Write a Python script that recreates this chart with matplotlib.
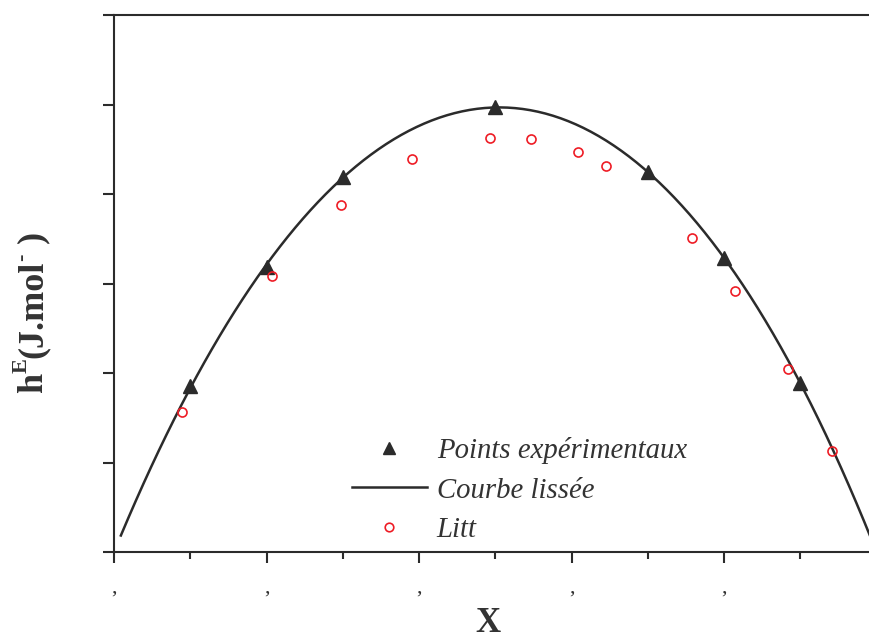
import numpy as np
import matplotlib
matplotlib.use("Agg")
import matplotlib.pyplot as plt
from matplotlib.ticker import MultipleLocator, FixedLocator

plt.rcParams['font.family'] = ['Liberation Serif', 'DejaVu Serif']

# Experimental points (triangles)
x_exp = [0.1, 0.2, 0.3, 0.5, 0.7, 0.8, 0.9]
h_exp = [186, 318, 419, 497, 425, 328, 189]

# Literature points (red circles)
x_lit = [0.089, 0.207, 0.298, 0.391, 0.493, 0.547, 0.609, 0.645, 0.758, 0.815, 0.884, 0.941]
h_lit = [156, 308, 388, 439, 463, 461.5, 447, 431, 351, 292, 204.5, 113]

x_ticks = [0.0, 0.2, 0.4, 0.6, 0.8, 1.0]
x_ticklabels = [',', ',', ',', ',', ',', '']
y_ticks = [0, 100, 200, 300, 400, 500, 600]

# Smoothed curve: Redlich-Kister fit of the experimental points
xe = np.array(x_exp)
he = np.array(h_exp)
z = 2 * xe - 1
A = np.column_stack([xe * (1 - xe) * z**k for k in range(3)])
coef, *_ = np.linalg.lstsq(A, he, rcond=None)
xc = np.linspace(0.009, 1.0, 300)
zc = 2 * xc - 1
hc = xc * (1 - xc) * sum(coef[k] * zc**k for k in range(3))

W, H = 869, 640
fig = plt.figure(figsize=(W / 100, H / 100), dpi=100)
ax = fig.add_axes([114 / W, 1 - 552 / H, (876.5 - 114) / W, (552 - 15) / H])

dark = '#2b2b2b'
ax.plot(xc, hc, color=dark, lw=1.8, label='Courbe lissée', zorder=2)
ax.plot(x_exp, h_exp, linestyle='none', marker='^', ms=9.5, color=dark,
        label='Points expérimentaux', zorder=3)
ax.plot(x_lit, h_lit, linestyle='none', marker='o', ms=6.5, mfc='none', mec='#ee1c25',
        mew=1.2, label='Litt', zorder=4)

ax.set_xlim(0, 1)
ax.set_ylim(0, 600)
ax.xaxis.set_major_locator(FixedLocator(x_ticks))
ax.set_xticklabels(x_ticklabels)
ax.xaxis.set_minor_locator(MultipleLocator(0.1))
ax.yaxis.set_major_locator(FixedLocator(y_ticks))
ax.set_yticklabels([])

for s in ax.spines.values():
    s.set_linewidth(1.5)
    s.set_color(dark)

ax.tick_params(axis='x', which='major', direction='out', length=8, width=1.5,
               color=dark, labelsize=16, pad=11, labelcolor='#333333')
ax.tick_params(axis='x', which='minor', direction='out', length=5, width=1.5, color=dark)
ax.tick_params(axis='y', which='major', direction='out', length=8, width=1.5, color=dark)

handles, labels = ax.get_legend_handles_labels()
order = [1, 0, 2]
leg = ax.legend([handles[i] for i in order], [labels[i] for i in order],
                loc='center left', bbox_to_anchor=(352 / W, 1 - 490 / H),
                bbox_transform=fig.transFigure, frameon=False,
                prop={'family': 'Liberation Serif', 'style': 'italic', 'size': 20.7},
                handlelength=2.6, handletextpad=0.35, labelspacing=0.45,
                borderpad=0, borderaxespad=0, markerscale=0.95)
for t in leg.get_texts():
    t.set_color('#333333')

# Y label built from pieces (rotated 90 deg), with raised superscripts
renderer = fig.canvas.get_renderer()
x_base = 42.0     # baseline position in pixels from left
y_cur = 393.0     # start (bottom) in pixels from top
pieces = [('h', 26, 0), ('E', 16, 15), ('(J.mol', 26, 0), ('-', 16, 15), (' )', 26, 0)]
for txt, size, shift in pieces:
    t = fig.text((x_base - shift) / W, 1 - y_cur / H, txt, rotation=90,
                 rotation_mode='anchor', ha='left', va='baseline',
                 fontsize=size, fontweight='bold', color='#333333')
    bb = t.get_window_extent(renderer=renderer)
    y_cur -= bb.height

fig.text(488 / W, 0.0, 'X', ha='center', va='bottom',
         fontsize=25, fontweight='bold', color='#333333')

fig.savefig('out.png', dpi=100)
